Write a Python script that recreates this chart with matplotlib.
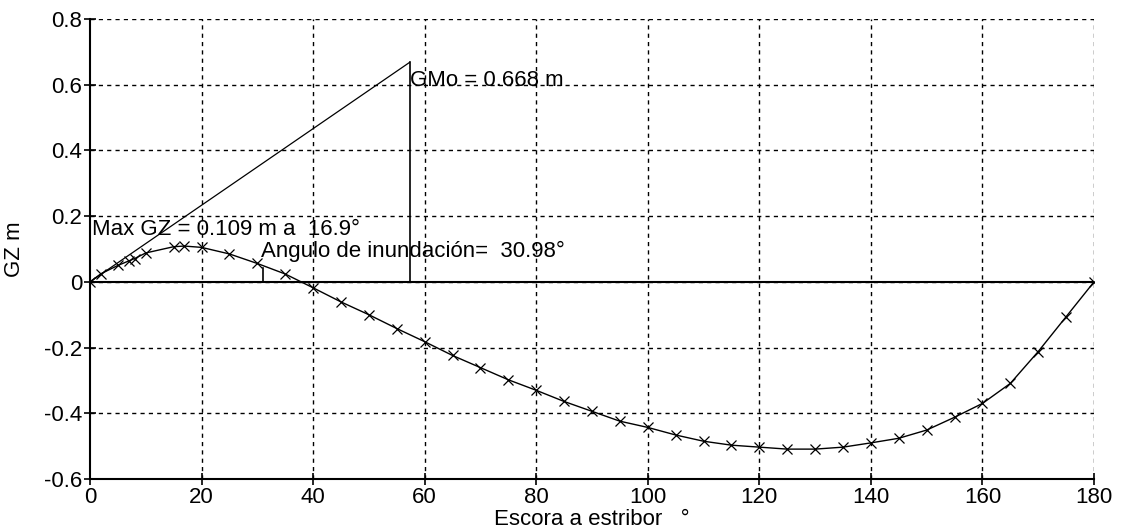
import matplotlib
matplotlib.use("Agg")
import matplotlib.pyplot as plt
import numpy as np

# GZ curve, heel to starboard (deg) vs righting arm (m)
heel = [0, 2, 5, 7, 8, 10, 15, 16.9, 20, 25, 30, 35, 40, 45, 50, 55, 60,
        65, 70, 75, 80, 85, 90, 95, 100, 105, 110, 115, 120, 125, 130, 135,
        140, 145, 150, 155, 160, 165, 170, 175, 180]
gz = [0.0, 0.025, 0.050, 0.064, 0.071, 0.088, 0.107, 0.109, 0.105, 0.085,
      0.056, 0.024, -0.018, -0.061, -0.100, -0.142, -0.182, -0.224, -0.261,
      -0.298, -0.330, -0.364, -0.394, -0.424, -0.443, -0.466, -0.485,
      -0.497, -0.503, -0.509, -0.509, -0.503, -0.490, -0.476, -0.451,
      -0.412, -0.370, -0.309, -0.212, -0.106, 0.0]

gm0 = 0.668
one_rad = 57.3
flood_angle = 30.98
flood_gz = 0.042
max_gz = 0.109
max_gz_angle = 16.9

x_ticks = [0, 20, 40, 60, 80, 100, 120, 140, 160, 180]
y_ticks = [-0.6, -0.4, -0.2, 0, 0.2, 0.4, 0.6, 0.8]
y_tick_labels = ["-0.6", "-0.4", "-0.2", "0", "0.2", "0.4", "0.6", "0.8"]

plt.rcParams["font.family"] = ["Liberation Sans", "DejaVu Sans"]
FS = 16

fig = plt.figure(figsize=(11.26, 5.31), dpi=100)
ax = fig.add_axes([0.0799, 0.0979, 0.8917, 0.8663])

# dashed grid, drawn manually so it also closes the top/right frame
for xv in x_ticks[1:]:
    ax.axvline(xv, color="black", lw=1.0, ls=(0, (3, 3)), zorder=1)
for yv in y_ticks[1:]:
    ax.axhline(yv, color="black", lw=1.0, ls=(0, (3, 3)), zorder=1)

ax.axhline(0, color="black", lw=1.5, zorder=2)

ax.plot(heel, gz, color="black", lw=1.0, marker="x", ms=7, mew=0.9, zorder=3)

# GM0 slope line and its vertical at 1 rad
ax.plot([0, one_rad], [0, gm0], color="black", lw=0.9, zorder=3)
ax.plot([one_rad, one_rad], [gm0, 0], color="black", lw=1.2, zorder=3)
# flooding angle marker
ax.plot([flood_angle, flood_angle], [0, flood_gz], color="black", lw=1.2, zorder=3)

ax.text(one_rad, 0.612, f"GMo = {gm0:.3f} m", fontsize=FS, va="center", ha="left")
ax.text(0.4, 0.158, f"Max GZ = {max_gz:.3f} m a  {max_gz_angle}°",
        fontsize=FS, va="center", ha="left")
ax.text(flood_angle - 0.3, 0.092, f"Angulo de inundación=  {flood_angle}°",
        fontsize=FS, va="center", ha="left")

ax.set_xlim(0, 180)
ax.set_ylim(-0.6, 0.8)
ax.set_xticks(x_ticks)
ax.set_yticks(y_ticks)
ax.set_yticklabels(y_tick_labels)
ax.tick_params(direction="inout", length=9, width=1.2, labelsize=FS, pad=1,
               colors="black")

for side in ("top", "right"):
    ax.spines[side].set_visible(False)
for side in ("left", "bottom"):
    ax.spines[side].set_linewidth(1.5)

ax.set_xlabel("Escora a estribor   °", fontsize=FS, labelpad=1)
ax.set_ylabel("GZ m", fontsize=FS, labelpad=14)

fig.savefig("out.png", dpi=100)
